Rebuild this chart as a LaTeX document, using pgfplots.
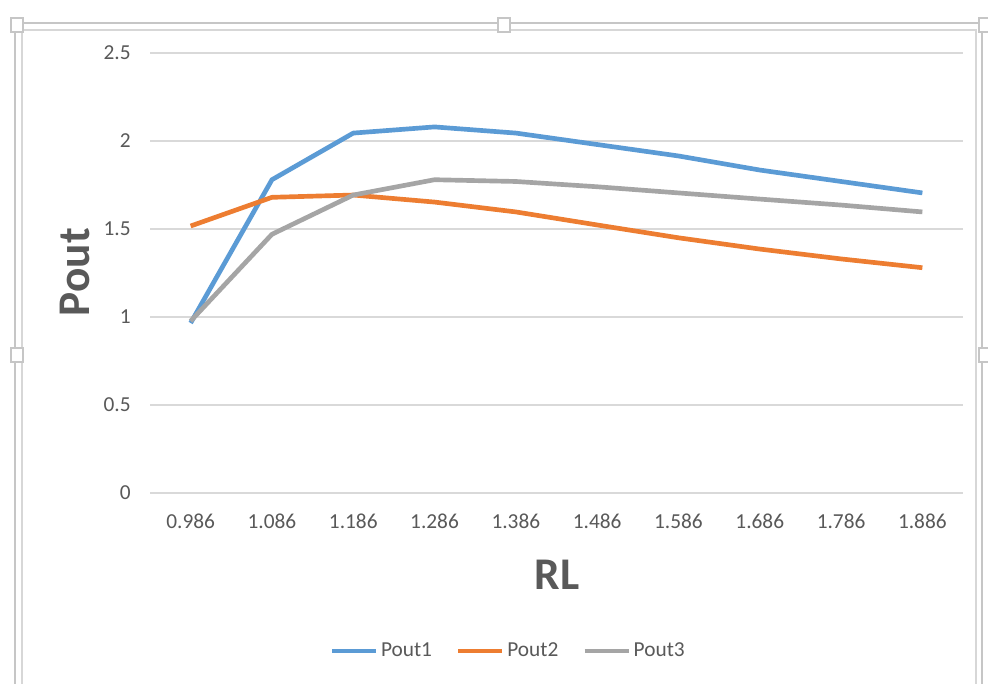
\documentclass[border=0pt]{standalone}
\usepackage{pgfplots}
\pgfplotsset{compat=1.18}
\usepackage{fontspec}
\setmainfont{Carlito}
\definecolor{c1}{HTML}{5B9BD5}
\definecolor{c2}{HTML}{ED7D31}
\definecolor{c3}{HTML}{A5A5A5}
\definecolor{txt}{HTML}{595959}
\definecolor{grd}{HTML}{D9D9D9}
\definecolor{frm}{HTML}{C6C6C6}
\begin{document}
\begin{tikzpicture}
\path[use as bounding box, fill=white] (0pt,0pt) rectangle (741pt,512.25pt);
\begin{scope}[x=0.75pt,y=0.75pt]
\draw[frm, line width=0.8pt] (15,-17) -- (15,660) -- (982,660) -- (982,-17);
\draw[frm!70, line width=0.8pt] (22,-17) -- (22,653) -- (976,653) -- (976,-17);
\foreach \p in {(17,658),(504,658),(985,658),(17,328),(985,328)}{
  \draw[frm, fill=white, line width=0.8pt] \p ++(-6,-7) rectangle ++(12,14);
}
\end{scope}
\begin{axis}[
  at={(112.5pt,142.5pt)}, anchor=south west,
  scale only axis, width=609.75pt, height=330pt,
  xmin=-0.5, xmax=9.5, ymin=0, ymax=2.5,
  xtick={0,...,9},
  xticklabels={0.986,1.086,1.186,1.286,1.386,1.486,1.586,1.686,1.786,1.886},
  ytick={0,0.5,1,1.5,2,2.5},
  yticklabels={0,0.5,1,1.5,2,2.5},
  ymajorgrids, grid style={grd, line width=0.8pt},
  axis line style={draw=none},
  major tick length=0pt,
  tick label style={font=\fontsize{16}{19}\selectfont, text=txt},
  xticklabel style={yshift=-12pt},
  yticklabel style={xshift=-11pt},
  xlabel={\textbf{RL}}, ylabel={\textbf{Pout}},
  label style={font=\fontsize{34}{40}\selectfont, text=txt},
  xlabel style={at={(axis description cs:0.5006,-0.186)}, anchor=center},
  ylabel style={at={(axis description cs:-0.092,0.502)}, anchor=center},
  legend columns=3,
  legend style={at={(axis description cs:0.441,-0.359)}, anchor=center, draw=none, fill=none,
    font=\fontsize{16}{19}\selectfont, text=txt,
    /tikz/every even column/.append style={column sep=16pt}},
  legend image code/.code={\draw[#1, line width=3.5pt] (0pt,0pt) -- (33pt,0pt);},
  every axis plot/.append style={line width=3.5pt, line join=round},
]
\addplot[c1] coordinates {(0,0.966) (1,1.78) (2,2.045) (3,2.08) (4,2.045) (5,1.98) (6,1.915) (7,1.835) (8,1.77) (9,1.705)};
\addlegendentry{Pout1}
\addplot[c2] coordinates {(0,1.517) (1,1.68) (2,1.693) (3,1.653) (4,1.597) (5,1.523) (6,1.45) (7,1.386) (8,1.33) (9,1.28)};
\addlegendentry{Pout2}
\addplot[c3] coordinates {(0,0.977) (1,1.47) (2,1.693) (3,1.78) (4,1.77) (5,1.74) (6,1.705) (7,1.67) (8,1.636) (9,1.597)};
\addlegendentry{Pout3}
\end{axis}
\end{tikzpicture}
\end{document}
